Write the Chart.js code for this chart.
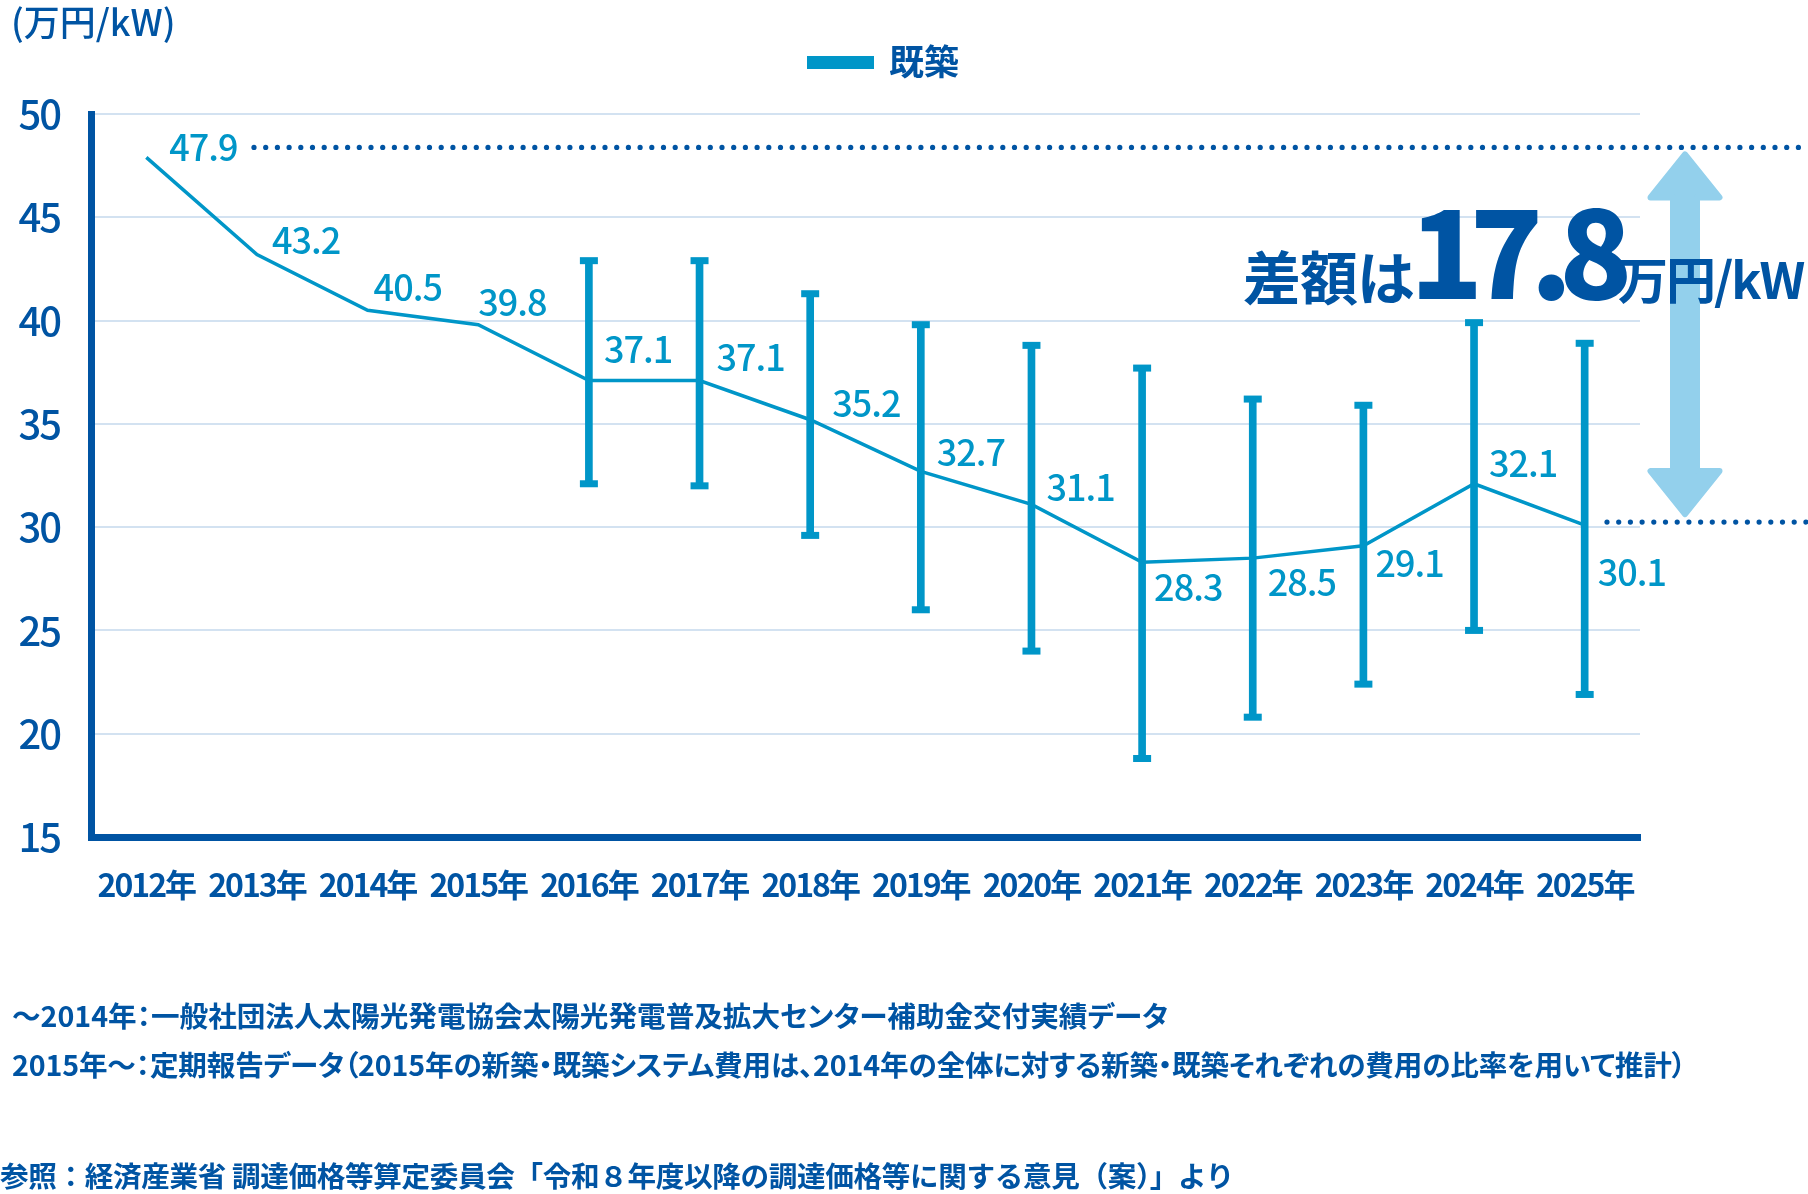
<!DOCTYPE html>
<html lang="ja">
<head>
<meta charset="utf-8">
<title>既築システム費用の推移</title>
<script src="https://cdn.jsdelivr.net/npm/chart.js@4.4.1/dist/chart.umd.min.js"></script>
<style>
  html, body { margin: 0; padding: 0; background: #fff; }
  body { width: 1808px; height: 1194px; position: relative; overflow: hidden; font-family: "Noto Sans CJK JP", "Noto Sans", sans-serif; }
  #chart { position: absolute; left: 0; top: 0; }
  .note { position: absolute; left: 12px; font-size: 28.6px; font-weight: 700; color: #0054a3; line-height: 1; white-space: nowrap; font-feature-settings: "palt"; }
  .note.src { font-feature-settings: normal; left: 0; letter-spacing: -0.35px; }
</style>
</head>
<body>
<canvas id="chart" width="1808" height="1194"></canvas>
<div class="note" style="top:1001px">〜2014年：一般社団法人太陽光発電協会太陽光発電普及拡大センター補助金交付実績データ</div>
<div class="note" style="top:1050px; letter-spacing:-0.15px">2015年〜：定期報告データ（2015年の新築・既築システム費用は、2014年の全体に対する新築・既築それぞれの費用の比率を用いて推計）</div>
<div class="note src" style="top:1161px">参照：経済産業省 調達価格等算定委員会「令和８年度以降の調達価格等に関する意見（案）」より</div>
<script>
// --- data ---
const years = ['2012年', '2013年', '2014年', '2015年', '2016年', '2017年', '2018年',
  '2019年', '2020年', '2021年', '2022年', '2023年', '2024年', '2025年'];
const existingCost = [47.9, 43.2, 40.5, 39.8, 37.1, 37.1, 35.2, 32.7, 31.1, 28.3, 28.5, 29.1, 32.1, 30.1];
const rangeMax = [null, null, null, null, 42.9, 42.9, 41.3, 39.8, 38.8, 37.7, 36.2, 35.9, 39.9, 38.9];
const rangeMin = [null, null, null, null, 32.1, 32.0, 29.6, 26.0, 24.0, 18.8, 20.8, 22.4, 25.0, 21.9];
const yMin = 15, yMax = 50, yStep = 5;

// --- style ---
const BLUE = '#0096c8';
const NAVY = '#0054a3';
const ARROW = '#93d0ec';
const FONT = '"Noto Sans CJK JP", "Noto Sans", sans-serif';

// label offset from each point (px)
const labelOffsets = [[23, -10], [15, -14], [6, -23], [0, -22], [15, -31], [17, -23], [22, -16],
  [16, -19], [15, -17], [12, 25], [15, 24], [12, 18], [15, -20], [13, 47]];

function dottedLine(ctx, x0, x1, y) {
  ctx.fillStyle = NAVY;
  for (let x = x0; x <= x1; x += 11.7) {
    ctx.beginPath();
    ctx.arc(x, y, 2.6, 0, Math.PI * 2);
    ctx.fill();
  }
}

function doubleArrow(ctx, cx, yTop, yBot) {
  const shaft = 24, head = 69, headH = 43; // inset by 3 for round stroke
  ctx.save();
  ctx.fillStyle = ARROW;
  ctx.strokeStyle = ARROW;
  ctx.lineWidth = 6;
  ctx.lineJoin = 'round';
  const t = yTop + 3, b = yBot - 3;
  ctx.beginPath();
  ctx.moveTo(cx, t);
  ctx.lineTo(cx + head / 2, t + headH);
  ctx.lineTo(cx + shaft / 2, t + headH);
  ctx.lineTo(cx + shaft / 2, b - headH);
  ctx.lineTo(cx + head / 2, b - headH);
  ctx.lineTo(cx, b);
  ctx.lineTo(cx - head / 2, b - headH);
  ctx.lineTo(cx - shaft / 2, b - headH);
  ctx.lineTo(cx - shaft / 2, t + headH);
  ctx.lineTo(cx - head / 2, t + headH);
  ctx.closePath();
  ctx.fill();
  ctx.stroke();
  ctx.restore();
}

const decorations = {
  id: 'decorations',
  beforeDraw(chart) {
    chart.ctx.letterSpacing = '-2px';
  },
  afterDatasetsDraw(chart) {
    const ctx = chart.ctx;
    const meta = chart.getDatasetMeta(0);
    ctx.save();
    ctx.letterSpacing = '-1px';
    ctx.font = `500 36px ${FONT}`;
    ctx.fillStyle = BLUE;
    ctx.textAlign = 'left';
    ctx.textBaseline = 'middle';
    meta.data.forEach((pt, i) => {
      const [dx, dy] = labelOffsets[i];
      ctx.fillText(existingCost[i].toFixed(1), pt.x + dx, pt.y + dy);
    });
    ctx.restore();
  },
  afterDraw(chart) {
    const {ctx, scales: {y}} = chart;
    ctx.save();
    ctx.letterSpacing = '0px';

    // unit title
    ctx.fillStyle = NAVY;
    ctx.textBaseline = 'middle';
    ctx.textAlign = 'left';
    ctx.font = `500 36px ${FONT}`;
    ctx.fillText('(万円/kW)', 11, 22);

    // legend
    ctx.fillStyle = BLUE;
    ctx.fillRect(807, 56, 67, 13);
    ctx.fillStyle = NAVY;
    ctx.font = `700 35px ${FONT}`;
    ctx.fillText('既築', 889, 62);

    // max / latest reference lines
    const hi = existingCost[0];
    const lo = existingCost[existingCost.length - 1];
    const yHi = y.getPixelForValue(hi) - 10;
    const yLo = y.getPixelForValue(lo) - 3;
    dottedLine(ctx, 254, 1808, yHi);
    dottedLine(ctx, 1607, 1808, yLo);
    doubleArrow(ctx, 1685, yHi + 4, yLo - 5);

    // difference callout
    ctx.fillStyle = NAVY;
    ctx.textBaseline = 'alphabetic';
    ctx.letterSpacing = '-1px';
    ctx.font = `700 58px ${FONT}`;
    ctx.fillText('差額は', 1243, 300);
    ctx.letterSpacing = '-13px';
    ctx.font = `900 120px ${FONT}`;
    ctx.fillText((hi - lo).toFixed(1), 1410, 299);
    ctx.letterSpacing = '-2px';
    ctx.font = `700 50px ${FONT}`;
    ctx.fillText('万円/kW', 1618, 299);
    ctx.restore();
  }
};

Chart.defaults.font.family = FONT;

new Chart(document.getElementById('chart'), {
  type: 'bar',
  data: {
    labels: years,
    datasets: [
      {
        type: 'line', label: '既築', data: existingCost,
        borderColor: BLUE, borderWidth: 3.5, pointRadius: 0, tension: 0, order: 0
      },
      {
        type: 'bar', label: '幅', data: years.map((_, i) => rangeMin[i] == null ? null : [rangeMin[i], rangeMax[i]]),
        backgroundColor: BLUE, borderWidth: 0, barThickness: 7, order: 1
      },
      {
        type: 'line', label: '最大', data: rangeMax, showLine: false,
        pointStyle: 'line', pointRadius: 9, pointBorderWidth: 7, pointBorderColor: BLUE, borderColor: BLUE, order: 1
      },
      {
        type: 'line', label: '最小', data: rangeMin, showLine: false,
        pointStyle: 'line', pointRadius: 9, pointBorderWidth: 7, pointBorderColor: BLUE, borderColor: BLUE, order: 1
      }
    ]
  },
  options: {
    responsive: false,
    animation: false,
    devicePixelRatio: 1,
    events: [],
    layout: { padding: { top: 114, right: 168, bottom: 0, left: 0 } },
    plugins: { legend: { display: false }, tooltip: { enabled: false } },
    scales: {
      x: {
        offset: true,
        grid: { display: false },
        border: { color: NAVY, width: 7 },
        ticks: { color: NAVY, font: { size: 32, weight: 'bold' }, padding: 21, maxRotation: 0, autoSkip: false },
        afterFit(scale) { scale.height = 357; }
      },
      y: {
        min: yMin, max: yMax,
        grid: { color: '#d3e2f1', lineWidth: 2, drawTicks: false },
        border: { color: NAVY, width: 7 },
        ticks: { stepSize: yStep, color: NAVY, font: { size: 40, weight: 500 }, padding: 31 },
        afterFit(scale) { scale.width = 91; }
      }
    }
  },
  plugins: [decorations]
});
</script>
</body>
</html>
